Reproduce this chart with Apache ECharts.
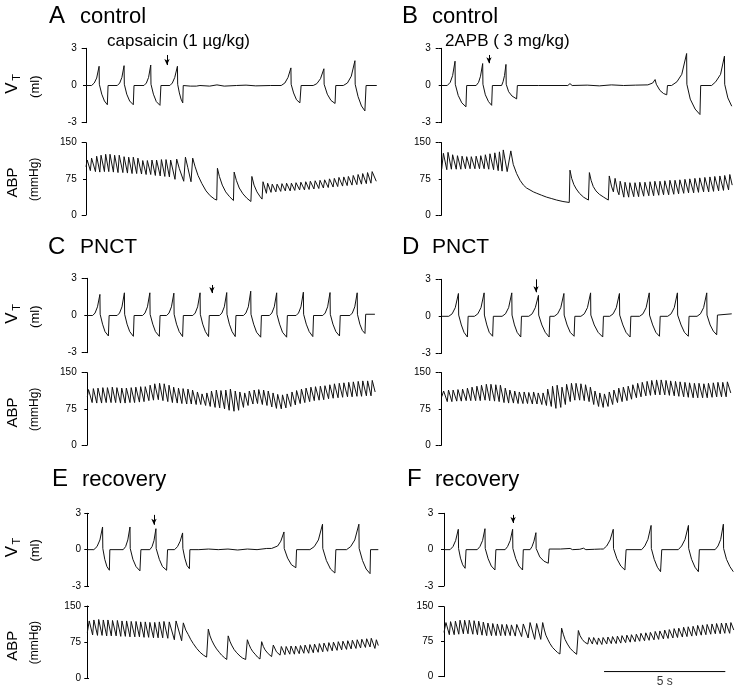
<!DOCTYPE html>
<html><head><meta charset="utf-8">
<script src="https://cdn.jsdelivr.net/npm/echarts@6/dist/echarts.min.js"></script>
<style>html,body{margin:0;padding:0;background:#fff}#c{width:740px;height:693px}</style>
</head><body><div id="c"></div>
<script>
// ---------- DATA ----------
const panelLetters = ['A','B','C','D','E','F'];
const conditions = ['control','control','PNCT','PNCT','recovery','recovery'];
const drugLabels = ['capsaicin (1 µg/kg)', '2APB ( 3 mg/kg)'];
const vtTicks = [-3, 0, 3];
const abpTicks = [0, 75, 150];
const timeRange = [0, 12];

// tidal volume traces [time s, ml]
const vtA = [[0,0],[0.23,0],[0.34,0.2],[0.44,0.6],[0.54,1.55],[0.55,0.1],[0.65,-0.7],[0.76,-1.25],[0.88,-1.55],[0.91,-1.55],[0.91,0],
[1.29,0],[1.39,0.2],[1.48,0.65],[1.57,1.6],[1.58,0.1],[1.68,-0.7],[1.8,-1.25],[1.95,-1.55],[1.98,-1.55],[1.98,0],
[2.39,0],[2.49,0.2],[2.58,0.65],[2.67,1.65],[2.68,0.1],[2.78,-0.7],[2.9,-1.3],[3.05,-1.6],[3.09,-1.6],[3.09,0],
[3.46,0],[3.56,0.2],[3.66,0.65],[3.77,1.55],[3.78,0.1],[3.85,-0.6],[3.92,-1.1],[3.99,-1.4],[4.01,-1.4],[4.01,0],
[4.3,-0.05],[4.55,-0.05],[4.62,-0.15],[4.7,0],[5.1,-0.05],[5.4,0.05],[5.7,-0.05],[6.2,0],[6.6,0.03],[7.0,-0.03],[7.6,0],
[8.05,0],[8.2,0.2],[8.33,0.65],[8.45,1.42],[8.46,0.1],[8.56,-0.6],[8.68,-1.15],[8.82,-1.4],[8.87,-1.4],[8.87,0],
[9.37,0],[9.52,0.15],[9.67,0.55],[9.81,1.35],[9.82,0.1],[9.95,-0.7],[10.1,-1.2],[10.27,-1.45],[10.3,-1.45],[10.3,0],
[10.61,0],[10.78,0.2],[10.94,0.75],[11.09,2.0],[11.1,0.1],[11.22,-0.9],[11.36,-1.65],[11.5,-2.05],[11.55,-2.05],[11.55,0],[11.99,0]];
const vtB = [[0,0],[0.23,0],[0.35,0.25],[0.45,0.8],[0.55,1.96],[0.56,0.1],[0.68,-0.8],[0.83,-1.4],[1.0,-1.72],[1.03,-1.72],[1.03,0],
[1.42,0],[1.52,0.25],[1.6,0.75],[1.69,1.77],[1.7,0.1],[1.8,-0.75],[1.93,-1.3],[2.06,-1.6],[2.09,-1.6],[2.09,0],
[2.47,0],[2.53,0.3],[2.59,0.8],[2.65,1.7],[2.66,0.1],[2.76,-0.5],[2.9,-0.85],[3.09,-1.08],[3.12,-1.08],[3.12,0],
[4.0,0],[5.2,0],[5.29,0.15],[5.38,0],[6.0,0.03],[6.5,-0.03],[7.0,0.05],[7.5,0],[8.0,0.03],[8.5,0.05],
[8.7,0.2],[8.8,0.48],[8.85,0.1],[9.0,-0.4],[9.15,-0.65],[9.28,-0.75],[9.31,-0.75],[9.31,0],[9.48,0],
[9.7,0.3],[9.9,0.9],[10.1,2.58],[10.11,0.1],[10.25,-1.1],[10.45,-1.9],[10.65,-2.34],[10.68,-2.34],[10.68,0],
[11.13,0],[11.3,0.3],[11.5,0.9],[11.66,2.37],[11.67,0.1],[11.8,-1.0],[11.96,-1.67]];
const vtC = [[0,0],[0.22,0],[0.32,0.2],[0.42,0.7],[0.52,1.7],[0.53,0.1],[0.63,-0.7],[0.73,-1.3],[0.87,-1.65],[0.9,-1.65],[0.9,0],
[1.23,0],[1.33,0.2],[1.43,0.7],[1.53,1.83],[1.54,0.1],[1.64,-0.7],[1.75,-1.3],[1.9,-1.68],[1.93,-1.68],[1.93,0],
[2.28,0],[2.38,0.2],[2.48,0.7],[2.58,1.83],[2.59,0.1],[2.7,-0.7],[2.81,-1.3],[2.97,-1.68],[3.0,-1.68],[3.0,0],
[3.27,0],[3.37,0.2],[3.47,0.7],[3.57,1.8],[3.58,0.1],[3.68,-0.7],[3.79,-1.3],[3.93,-1.7],[3.96,-1.7],[3.96,0],
[4.35,0],[4.45,0.2],[4.55,0.7],[4.65,1.83],[4.66,0.1],[4.76,-0.7],[4.87,-1.3],[5.0,-1.7],[5.03,-1.7],[5.03,0],
[5.45,0],[5.55,0.2],[5.65,0.7],[5.75,1.85],[5.76,0.1],[5.86,-0.7],[5.97,-1.3],[6.1,-1.7],[6.13,-1.7],[6.13,0],
[6.44,0],[6.54,0.2],[6.64,0.7],[6.74,1.96],[6.75,0.1],[6.86,-0.7],[6.98,-1.35],[7.15,-1.75],[7.18,-1.75],[7.18,0],
[7.51,0],[7.61,0.2],[7.71,0.7],[7.81,1.83],[7.82,0.1],[7.93,-0.7],[8.05,-1.35],[8.22,-1.75],[8.25,-1.75],[8.25,0],
[8.61,0],[8.71,0.2],[8.81,0.7],[8.91,1.88],[8.92,0.1],[9.03,-0.7],[9.15,-1.3],[9.3,-1.7],[9.33,-1.7],[9.33,0],
[9.71,0],[9.81,0.2],[9.91,0.7],[10.01,1.85],[10.02,0.1],[10.13,-0.7],[10.25,-1.3],[10.4,-1.65],[10.43,-1.65],[10.43,0],
[10.83,0],[10.93,0.2],[11.03,0.7],[11.13,1.83],[11.14,0.1],[11.24,-0.7],[11.34,-1.2],[11.45,-1.45],[11.48,-1.45],[11.48,0.1],[11.86,0.1]];
const vtD = [[0,0],[0.29,0],[0.43,0.2],[0.56,0.7],[0.69,1.85],[0.7,0.1],[0.81,-0.7],[0.92,-1.3],[1.06,-1.68],[1.09,-1.68],[1.09,0],
[1.35,0],[1.49,0.2],[1.62,0.7],[1.75,1.9],[1.76,0.1],[1.86,-0.7],[1.96,-1.3],[2.1,-1.62],[2.13,-1.62],[2.13,0],
[2.49,0],[2.63,0.2],[2.76,0.7],[2.89,1.9],[2.9,0.1],[3.0,-0.7],[3.11,-1.3],[3.26,-1.68],[3.29,-1.68],[3.29,0],
[3.59,0],[3.73,0.2],[3.86,0.7],[3.99,1.7],[4.0,0.1],[4.13,-0.7],[4.27,-1.3],[4.43,-1.68],[4.46,-1.68],[4.46,0],
[4.64,0],[4.78,0.2],[4.91,0.7],[5.04,1.85],[5.05,0.1],[5.17,-0.7],[5.3,-1.3],[5.46,-1.62],[5.49,-1.62],[5.49,0],
[5.74,0],[5.88,0.2],[6.01,0.7],[6.14,1.9],[6.15,0.1],[6.29,-0.7],[6.45,-1.3],[6.64,-1.68],[6.67,-1.68],[6.67,0],
[6.93,0],[7.07,0.2],[7.2,0.7],[7.33,1.85],[7.34,0.1],[7.47,-0.7],[7.6,-1.3],[7.77,-1.68],[7.8,-1.68],[7.8,0],
[8.16,0],[8.3,0.2],[8.43,0.7],[8.56,1.9],[8.57,0.1],[8.7,-0.7],[8.83,-1.3],[8.98,-1.62],[9.01,-1.62],[9.01,0],
[9.32,0],[9.46,0.2],[9.59,0.7],[9.72,1.9],[9.73,0.1],[9.87,-0.7],[10.01,-1.3],[10.17,-1.62],[10.2,-1.62],[10.2,0],
[10.53,0],[10.67,0.2],[10.8,0.7],[10.93,1.9],[10.94,0.1],[11.07,-0.7],[11.2,-1.2],[11.34,-1.5],[11.37,-1.5],[11.37,0.1],[11.96,0.2]];
const vtE = [[0,0],[0.27,0],[0.4,0.25],[0.52,0.8],[0.63,1.87],[0.64,0.1],[0.72,-0.8],[0.81,-1.4],[0.91,-1.7],[0.93,-1.7],[0.93,0],
[1.48,0],[1.58,0.25],[1.67,0.8],[1.76,1.87],[1.77,0.1],[1.88,-0.8],[2.01,-1.4],[2.17,-1.75],[2.21,-1.75],[2.21,0],
[2.58,0],[2.67,0.25],[2.75,0.75],[2.83,1.73],[2.84,0.1],[2.97,-0.8],[3.1,-1.4],[3.27,-1.7],[3.31,-1.7],[3.31,0],
[3.6,0],[3.72,0.25],[3.83,0.7],[3.93,1.38],[3.94,0.1],[4.02,-0.7],[4.11,-1.3],[4.21,-1.57],[4.23,-1.57],[4.23,0],
[4.6,0],[5.0,0.05],[5.4,0],[5.8,0.05],[6.2,-0.03],[6.6,0.05],[7.0,0],[7.4,0.1],[7.6,0.1],
[7.67,0.1],[7.85,0.3],[7.98,0.7],[8.11,1.46],[8.12,0.1],[8.26,-0.7],[8.42,-1.25],[8.6,-1.49],[8.63,-1.49],[8.63,0],
[9.18,0],[9.36,0.25],[9.53,0.8],[9.7,2.1],[9.71,0.1],[9.86,-0.9],[10.03,-1.6],[10.21,-1.93],[10.25,-1.93],[10.25,0],
[10.69,0],[10.86,0.25],[11.03,0.8],[11.2,2.1],[11.21,0.1],[11.35,-0.9],[11.5,-1.6],[11.66,-1.98],[11.68,-1.98],[11.68,0],[12.0,0]];
const vtF = [[0,0],[0.25,0],[0.37,0.25],[0.48,0.75],[0.59,1.68],[0.6,0.1],[0.68,-0.7],[0.77,-1.25],[0.87,-1.54],[0.91,-1.54],[0.91,0],
[1.37,0],[1.48,0.25],[1.59,0.75],[1.69,1.73],[1.7,0.1],[1.82,-0.75],[1.95,-1.35],[2.1,-1.68],[2.14,-1.68],[2.14,0],
[2.52,0],[2.62,0.25],[2.73,0.75],[2.83,1.68],[2.84,0.1],[2.96,-0.75],[3.09,-1.35],[3.24,-1.68],[3.27,-1.68],[3.27,0],
[3.55,0],[3.63,0.25],[3.71,0.7],[3.79,1.4],[3.8,0.1],[3.95,-0.6],[4.12,-0.95],[4.3,-1.12],[4.34,-1.12],[4.34,0.05],
[4.8,0.05],[5.2,0.1],[5.3,0],[5.6,0.03],[5.75,0.12],[5.85,0],[6.2,0.03],[6.45,0.05],
[6.57,0.05],[6.71,0.3],[6.85,0.8],[6.98,1.68],[6.99,0.1],[7.13,-0.75],[7.29,-1.35],[7.46,-1.68],[7.51,-1.68],[7.51,0],
[8.15,0],[8.28,0.3],[8.41,0.85],[8.54,2.0],[8.55,0.1],[8.67,-0.8],[8.8,-1.45],[8.93,-1.82],[8.98,-1.82],[8.98,0],
[9.66,0],[9.8,0.3],[9.94,0.85],[10.08,2.0],[10.09,0.1],[10.21,-0.8],[10.35,-1.45],[10.49,-1.82],[10.53,-1.82],[10.53,0],
[11.18,0],[11.3,0.3],[11.41,0.85],[11.52,2.1],[11.53,0.1],[11.65,-0.8],[11.79,-1.4],[11.93,-1.82]];

// arterial blood pressure traces [time s, mmHg]
const abpA = [[0,100],[0.05,114],[0.18,92],[0.23,118],[0.39,90],[0.44,122],[0.57,89],[0.62,124],[0.76,90],[0.81,126],[0.94,90],[0.99,126],[1.13,89],[1.18,124],[1.32,88],[1.37,124],[1.52,88],[1.57,121],[1.71,87],[1.76,120],[1.9,86],[1.95,120],[2.09,86],[2.14,118],[2.29,85],[2.34,113],[2.48,84],[2.53,113],[2.67,84],[2.72,114],[2.86,82],[2.91,114],[3.06,81],[3.11,115],[3.25,80],[3.3,115],[3.44,79],[3.49,114],[3.67,74],[3.74,116],[3.85,96],[4.03,70],[4.1,120],[4.2,98],[4.33,69],[4.4,118],
[4.5,100],[4.62,82],[4.78,65],[4.95,50],[5.12,40],[5.3,33],[5.39,31],[5.42,97],[5.5,80],[5.62,62],[5.76,48],[5.92,38],[6.08,30],[6.11,89],[6.2,72],[6.32,56],[6.47,44],[6.63,35],[6.8,28],[6.84,80],[6.93,62],[7.05,48],[7.18,38],[7.26,33],[7.3,69],
[7.44,45],[7.49,66],[7.63,47],[7.68,64],[7.83,48],[7.88,64],[8.03,49],[8.08,65],[8.22,50],[8.27,66],[8.42,50],[8.47,66],[8.61,51],[8.66,67],[8.81,52],[8.86,68],[9.01,52],[9.06,69],[9.2,53],[9.25,70],[9.4,54],[9.45,71],[9.6,55],[9.65,72],[9.79,56],[9.84,73],[9.99,57],[10.04,75],[10.19,58],[10.24,76],[10.38,59],[10.43,78],[10.58,60],[10.63,79],[10.77,61],[10.82,80],[10.97,62],[11.02,82],[11.17,63],[11.22,84],[11.36,64],[11.41,86],[11.56,65],[11.61,88],[11.75,66],[11.8,90],[11.97,70]];
const abpB = [[0,95],[0.07,128],[0.21,94],[0.26,130],[0.4,95],[0.45,125],[0.6,95],[0.65,123],[0.79,95],[0.84,122],[0.98,96],[1.03,121],[1.17,96],[1.22,121],[1.37,96],[1.42,122],[1.56,96],[1.61,123],[1.75,96],[1.8,125],[1.94,95],[1.99,127],[2.14,94],[2.19,129],[2.33,92],[2.38,131],[2.49,91],[2.54,135],[2.7,90],[2.85,133],
[2.95,105],[3.09,86],[3.23,72],[3.37,62],[3.5,56],[3.64,52],[3.78,48],[3.92,45],[4.12,41],[4.33,37],[4.54,34],[4.74,31],[5.0,28],[5.26,26],
[5.29,93],[5.36,76],[5.45,63],[5.55,54],[5.68,45],[5.85,37],[6.05,31],
[6.09,88],[6.16,72],[6.25,59],[6.36,50],[6.5,43],[6.68,37],[6.87,31],
[6.91,81],[7.0,60],[7.08,48],[7.15,76],[7.25,50],[7.31,42],
[7.36,70],[7.51,37],[7.56,68],[7.71,37],[7.76,67],[7.92,38],[7.97,67],[8.12,38],[8.17,68],[8.33,39],[8.38,68],[8.54,40],[8.59,69],[8.74,40],[8.79,70],[8.95,41],[9.0,70],[9.15,42],[9.2,71],[9.36,42],[9.41,72],[9.57,43],[9.62,72],[9.77,44],[9.82,73],[9.98,45],[10.03,74],[10.18,46],[10.23,75],[10.39,46],[10.44,76],[10.59,47],[10.64,77],[10.8,48],[10.85,78],[11.01,48],[11.06,79],[11.21,49],[11.26,80],[11.42,50],[11.47,81],[11.62,51],[11.67,82],[11.83,52],[11.88,84],[11.98,62]];
const abpC = [[0,100],[0.05,115],
[0.2,88],[0.25,117],[0.39,87],[0.44,118],[0.59,87],[0.64,119],[0.78,88],[0.83,119],[0.98,88],[1.03,120],[1.17,88],[1.22,119],[1.37,87],[1.42,118],[1.56,87],[1.61,118],[1.76,88],[1.81,119],[1.95,88],[2.0,120],[2.15,89],[2.2,121],[2.34,90],[2.39,121],
[2.54,92],[2.59,124],[2.73,93],[2.78,127],[2.93,94],[2.98,128],[3.12,92],[3.17,127],[3.32,90],[3.37,124],
[3.51,88],[3.56,120],[3.71,87],[3.76,118],[3.9,86],[3.95,117],[4.1,85],[4.15,116],[4.29,85],[4.34,114],[4.49,84],[4.54,110],
[4.68,84],[4.73,106],[4.88,82],[4.93,108],[5.07,80],[5.12,112],[5.27,78],[5.32,114],[5.46,77],[5.51,113],
[5.66,75],[5.71,114],[5.85,72],[5.9,116],[6.05,70],[6.1,112],[6.24,72],[6.29,110],[6.44,78],[6.49,108],
[6.63,82],[6.68,112],[6.83,85],[6.88,114],[7.02,86],[7.07,115],[7.22,84],[7.27,114],[7.41,82],[7.46,112],
[7.61,79],[7.66,108],[7.8,76],[7.85,105],[8.0,75],[8.05,104],[8.19,77],[8.24,106],
[8.39,80],[8.44,110],[8.58,83],[8.63,113],[8.78,86],[8.83,116],[8.97,88],[9.02,118],[9.17,90],[9.22,120],[9.36,92],[9.41,121],[9.56,93],[9.61,122],[9.75,94],[9.8,123],
[9.95,96],[10.0,125],[10.14,97],[10.19,127],[10.34,98],[10.39,128],[10.53,99],[10.58,129],[10.73,100],[10.78,130],[10.92,100],[10.97,131],[11.12,101],[11.17,132],[11.31,101],[11.36,133],[11.51,102],[11.56,133],[11.7,102],[11.75,134],[11.87,110]];
const abpD = [[0,100],[0.08,112],
[0.23,90],[0.28,114],[0.42,90],[0.47,114],[0.62,91],[0.67,115],[0.81,91],[0.86,116],[1.01,92],[1.06,118],[1.2,92],[1.25,120],
[1.4,92],[1.45,122],[1.59,92],[1.64,124],[1.79,93],[1.84,126],[1.98,92],[2.03,126],[2.18,91],[2.23,125],[2.37,90],[2.42,124],
[2.57,88],[2.62,118],[2.76,87],[2.81,114],[2.96,87],[3.01,112],[3.15,86],[3.2,110],[3.35,86],[3.4,110],[3.54,86],[3.59,109],[3.74,85],[3.79,110],[3.93,85],[3.98,108],[4.13,84],[4.18,108],
[4.32,82],[4.37,116],[4.52,80],[4.57,122],[4.71,76],[4.76,124],[4.91,78],[4.96,120],
[5.1,84],[5.15,126],[5.3,90],[5.35,128],[5.49,93],[5.54,128],[5.69,93],[5.74,127],[5.88,92],[5.93,125],[6.08,90],[6.13,120],
[6.27,84],[6.32,112],[6.47,80],[6.52,108],[6.66,78],[6.71,106],
[6.86,80],[6.91,110],[7.05,84],[7.1,114],[7.25,88],[7.3,118],[7.44,90],[7.49,120],[7.64,92],[7.69,122],
[7.83,95],[7.88,125],[8.03,98],[8.08,128],[8.22,100],[8.27,130],[8.42,102],[8.47,132],[8.61,103],[8.66,134],[8.81,104],[8.86,135],[9.0,104],[9.05,135],[9.2,104],[9.25,134],[9.39,103],[9.44,133],[9.59,102],[9.64,132],[9.78,101],[9.83,131],[9.98,100],[10.03,130],[10.17,99],[10.22,129],[10.37,98],[10.42,128],[10.56,98],[10.61,128],[10.76,98],[10.81,127],[10.95,98],[11.0,128],[11.15,99],[11.2,129],[11.34,100],[11.39,130],[11.54,100],[11.59,130],[11.73,100],[11.78,131],[11.92,108]];
const abpE = [[0,95],[0.08,119],
[0.22,90],[0.27,121],[0.42,89],[0.47,122],[0.61,89],[0.66,121],[0.8,88],[0.85,121],[0.99,88],[1.04,120],[1.19,88],[1.24,120],[1.38,87],[1.43,119],[1.57,87],[1.62,119],[1.76,86],[1.81,118],[1.96,86],[2.01,118],[2.15,86],[2.2,117],[2.34,85],[2.39,117],[2.53,85],[2.58,116],[2.73,84],[2.78,116],[2.92,84],[2.97,117],[3.11,84],[3.16,118],[3.32,83],[3.38,117],[3.59,80],[3.66,119],[3.89,78],[3.96,115],
[4.06,100],[4.16,91],[4.27,80],[4.37,72],[4.51,62],[4.65,54],[4.79,48],[4.92,44],[4.99,102],[5.06,88],[5.13,79],[5.23,69],[5.33,61],[5.44,54],[5.54,48],[5.65,43],[5.75,39],[5.81,88],[5.88,77],[5.95,69],[6.05,60],[6.16,53],[6.3,46],[6.4,42],[6.53,39],[6.6,80],[6.67,70],[6.74,62],[6.83,55],[6.92,50],[7.02,44],[7.12,40],[7.19,76],[7.26,66],[7.33,59],[7.46,51],[7.6,45],[7.67,69],[7.8,55],[7.95,48],
[8.0,66],[8.15,49],[8.2,66],[8.35,50],[8.4,67],[8.54,50],[8.59,67],[8.74,51],[8.79,68],[8.93,52],[8.98,69],[9.13,52],[9.18,70],[9.32,53],[9.37,71],[9.52,54],[9.57,72],[9.71,55],[9.76,73],[9.91,56],[9.96,74],[10.1,57],[10.15,75],[10.3,58],[10.35,76],[10.49,59],[10.54,77],[10.69,60],[10.74,78],[10.88,61],[10.93,79],[11.08,62],[11.13,80],[11.27,63],[11.32,81],[11.47,64],[11.52,82],[11.66,65],[11.71,83],[11.86,62],[11.92,80],[12.0,68]];
const abpF = [[0,95],[0.08,116],[0.22,90],[0.27,118],[0.42,90],[0.47,119],[0.61,91],[0.66,121],[0.8,92],[0.85,121],[0.99,92],[1.04,121],[1.19,91],[1.24,120],[1.38,90],[1.43,119],[1.57,89],[1.62,117],[1.76,88],[1.81,115],[1.96,88],[2.01,114],[2.15,88],[2.2,113],[2.34,88],[2.39,112],[2.53,88],[2.58,112],[2.73,88],[2.78,111],[2.94,87],[3.0,112],[3.2,86],[3.27,113],[3.47,83],[3.55,116],[3.74,80],[3.82,114],[3.99,80],[4.07,116],
[4.14,100],[4.2,89],[4.29,79],[4.37,71],[4.47,63],[4.58,57],[4.68,52],[4.78,48.6],[4.85,104],[4.92,91],[4.99,80],[5.09,70],[5.2,61],[5.33,54],[5.47,48],[5.54,99],[5.61,88],[5.7,80],[5.8,74],[5.93,70],
[5.98,84],[6.12,70],[6.17,84],[6.32,69],[6.37,83],[6.51,69],[6.56,84],[6.71,70],[6.76,85],[6.9,71],[6.95,86],[7.1,71],[7.15,87],[7.29,72],[7.34,88],[7.49,73],[7.54,89],[7.68,74],[7.73,90],[7.88,75],[7.93,91],[8.07,76],[8.12,93],[8.27,77],[8.32,94],[8.46,78],[8.51,95],[8.66,79],[8.71,97],[8.85,80],[8.9,98],[9.05,81],[9.1,100],[9.24,82],[9.29,101],[9.44,83],[9.49,103],[9.63,84],[9.68,104],[9.83,85],[9.88,106],[10.02,86],[10.07,107],[10.22,87],[10.27,108],[10.41,88],[10.46,110],[10.61,89],[10.66,111],[10.8,90],[10.85,112],[11.0,91],[11.05,113],[11.19,92],[11.24,114],[11.39,92],[11.44,115],[11.58,93],[11.63,115],[11.78,93],[11.83,116],[11.95,100]];

// injection arrows: [time s, arrow start ml, arrow tip ml]
const arrowA = [3.34, 2.46, 1.65];
const arrowB = [1.95, 2.46, 1.8];
const arrowC = [5.14, 2.46, 1.81];
const arrowD = [3.89, 3.0, 1.95];
const arrowE = [2.75, 2.87, 2.05];
const arrowF = [2.85, 2.87, 2.2];

// 5 s time scale bar (panel F, ABP axes)
const scaleBarTimes = [6.6, 11.6];
const scaleBarLevel = 11;
const scaleBarLabel = '5 s';

// ---------- LAYOUT ----------
const FONT = 'Liberation Sans, Arial, Helvetica, sans-serif';
const W = 291;
const L = [
  {left:86,    off:4.3, vtTop:48.3,  vtH:74.4, abpTop:142.7, abpH:72.3},
  {left:441.7, off:6,   vtTop:48.3,  vtH:74.4, abpTop:142.7, abpH:72.3},
  {left:87.3,  off:5.6, vtTop:278.3, vtH:74.4, abpTop:372.7, abpH:72.3},
  {left:441.7, off:6,   vtTop:279.3, vtH:74,   abpTop:372.7, abpH:72.3},
  {left:87.3,  off:1.3, vtTop:513.3, vtH:72.7, abpTop:606,   abpH:72.3},
  {left:444,   off:5.7, vtTop:513.3, vtH:72.7, abpTop:606.7, abpH:70}
];
const vtData = [vtA, vtB, vtC, vtD, vtE, vtF];
const abpData = [abpA, abpB, abpC, abpD, abpE, abpF];
const arrows = [arrowA, arrowB, arrowC, arrowD, arrowE, arrowF];

const grids = [], xAxes = [], yAxes = [], series = [];
const lineStyle = {color:'#111', width:1};
L.forEach((p, i) => {
  const defs = [
    {top:p.vtTop, h:p.vtH, ticks:vtTicks, data:vtData[i], arrow:arrows[i]},
    {top:p.abpTop, h:p.abpH, ticks:abpTicks, data:abpData[i]}
  ];
  defs.forEach((d) => {
    const g = grids.length;
    grids.push({left:p.left, top:d.top, width:W, height:d.h, containLabel:false, outerBoundsMode:'none'});
    xAxes.push({gridIndex:g, type:'value', min:timeRange[0], max:timeRange[1], show:false});
    const mn = d.ticks[0], mx = d.ticks[d.ticks.length-1];
    yAxes.push({gridIndex:g, type:'value', position:'left', offset:p.off, min:mn, max:mx,
      interval:d.ticks[1]-d.ticks[0],
      axisLine:{show:true, lineStyle:{color:'#000', width:1}},
      axisTick:{show:true, inside:false, length:3, lineStyle:{color:'#000', width:1}},
      axisLabel:{show:true, margin:5, fontSize:10, color:'#000', fontFamily:FONT},
      splitLine:{show:false}});
    yAxes.push({gridIndex:g, type:'value', position:'left', offset:p.off, min:mn, max:mx,
      interval:mx-mn,
      axisLine:{show:false},
      axisTick:{show:true, inside:true, length:3, lineStyle:{color:'#000', width:1}},
      axisLabel:{show:false}, splitLine:{show:false}});
    const s = {type:'line', xAxisIndex:g, yAxisIndex:yAxes.length-2, data:d.data,
      showSymbol:false, symbol:'none', lineStyle:lineStyle, animation:false, silent:true};
    if (d.arrow) {
      s.markLine = {silent:true, animation:false, symbol:['none','arrow'], symbolSize:[4,6],
        label:{show:false}, lineStyle:{color:'#000', width:1, type:'solid'},
        emphasis:{disabled:true},
        data:[[{coord:[d.arrow[0], d.arrow[1]]},{coord:[d.arrow[0], d.arrow[2]]}]]};
    }
    series.push(s);
  });
});
// scale bar in panel F ABP axes
const fAbpGrid = 11;
series.push({type:'line', xAxisIndex:fAbpGrid, yAxisIndex:2*fAbpGrid,
  data:scaleBarTimes.map(t => [t, scaleBarLevel]), showSymbol:false, symbol:'none',
  lineStyle:{color:'#000', width:1}, animation:false, silent:true});
series.push({type:'scatter', xAxisIndex:fAbpGrid, yAxisIndex:2*fAbpGrid,
  data:[[(scaleBarTimes[0]+scaleBarTimes[1])/2, scaleBarLevel]], symbolSize:0, silent:true, animation:false,
  label:{show:true, position:'bottom', distance:4, formatter:scaleBarLabel, color:'#000', fontSize:12, fontFamily:FONT}});

// text graphics
const graphic = [];
const letterPos = [[49,16.7],[402,16.7],[48,247.7],[402,247.7],[52,479.7],[407,479.7]];
const wordX = [80, 432, 80, 432, 82, 435];
panelLetters.forEach((l, i) => {
  graphic.push({type:'text', x:letterPos[i][0], y:letterPos[i][1],
    style:{text:l, fontSize:24, fontFamily:FONT, fill:'#000', align:'left', verticalAlign:'middle'}});
  graphic.push({type:'text', x:wordX[i], y:letterPos[i][1],
    style:{text:conditions[i], fontSize:conditions[i]==='PNCT'?21:22, fontFamily:FONT, fill:'#000', align:'left', verticalAlign:'middle'}});
});
graphic.push({type:'text', x:107, y:41.5, style:{text:drugLabels[0], fontSize:17, fontFamily:FONT, fill:'#000', align:'left', verticalAlign:'middle'}});
graphic.push({type:'text', x:445, y:41, style:{text:drugLabels[1], fontSize:17, fontFamily:FONT, fill:'#000', align:'left', verticalAlign:'middle'}});
// y-axis names (left column)
const vtZero = [86, 316, 549.7];
const abpMid = [178.9, 408.9, 642.2];
const rot = Math.PI/2;
vtZero.forEach(z => {
  graphic.push({type:'text', x:12.5, y:z+2, rotation:rot, style:{text:'V', fontSize:17, fontFamily:FONT, fill:'#000', align:'center', verticalAlign:'middle'}});
  graphic.push({type:'text', x:17, y:z-8.5, rotation:rot, style:{text:'T', fontSize:11, fontFamily:FONT, fill:'#000', align:'center', verticalAlign:'middle'}});
  graphic.push({type:'text', x:35, y:z+0.7, rotation:rot, style:{text:'(ml)', fontSize:13, fontFamily:FONT, fill:'#000', align:'center', verticalAlign:'middle'}});
});
abpMid.forEach(z => {
  graphic.push({type:'text', x:12.5, y:z+3.6, rotation:rot, style:{text:'ABP', fontSize:15, fontFamily:FONT, fill:'#000', align:'center', verticalAlign:'middle'}});
  graphic.push({type:'text', x:34.5, y:z+0.4, rotation:rot, style:{text:'(mmHg)', fontSize:12, fontFamily:FONT, fill:'#000', align:'center', verticalAlign:'middle'}});
});

const chart = echarts.init(document.getElementById('c'), null, {renderer:'canvas'});
chart.setOption({
  animation:false,
  backgroundColor:'#fff',
  textStyle:{fontFamily:FONT},
  grid:grids, xAxis:xAxes, yAxis:yAxes, series:series, graphic:graphic
});
</script>
</body></html>
